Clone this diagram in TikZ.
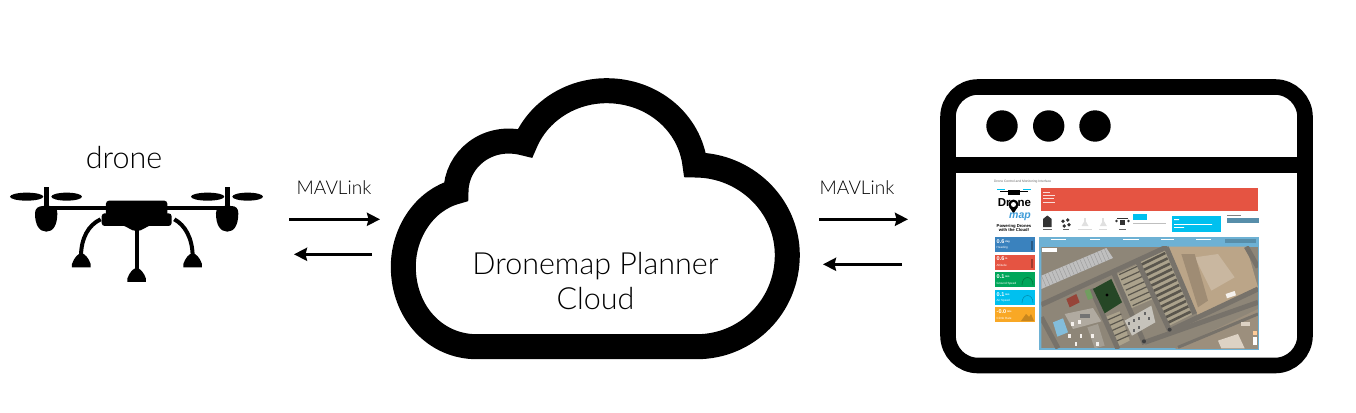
\documentclass[tikz,border=0pt]{standalone}
\usepackage{fontspec}
\setmainfont{Lato Light}
\newfontfamily\boldfont{Liberation Sans}[BoldFont={Liberation Sans Bold}]
\usetikzlibrary{arrows.meta,
    positioning}
\definecolor{banner}{HTML}{E55442}
\definecolor{sky}{HTML}{00C0EF}
\definecolor{panel}{HTML}{6DB1D4}
\definecolor{tan}{HTML}{BBA588}
\definecolor{ground}{HTML}{8E8678}
\definecolor{asphalt}{HTML}{77726A}
\definecolor{rowdark}{HTML}{5A564D}
\definecolor{rowlight}{HTML}{ABA28C}
\definecolor{tileblue}{HTML}{3A82BE}
\definecolor{tilegreen}{HTML}{00A65A}
\definecolor{tileorange}{HTML}{F9A825}
\definecolor{pin}{HTML}{3C9BD8}
\tikzset{
  link/.style={line width=3pt, -{Stealth[length=13pt, width=13pt, inset=1.5pt]}},
  caption/.style={inner sep=0pt, font=\fontsize{19}{21}\selectfont},
  title/.style={inner sep=0pt, align=center, font=\fontsize{30.5}{35}\selectfont},
  tile/.style={minimum width=40.7pt, minimum height=15pt, inner sep=0pt},
  tiny text/.style={inner sep=0pt, text=white, font=\boldfont\bfseries\fontsize{3}{3.5}\selectfont},
  strip/.style={line width=2.6pt, line cap=butt},
  road/.style={line width=5pt, draw=asphalt},
  }

\begin{document}
\begin{tikzpicture}[x=1pt, y=-1pt]
  \useasboundingbox (0,0) rectangle (1356,412);

  % drone, in a scope of its own
  \begin{scope}[shift={(0,130)}, x=0.3333pt, y=-0.3333pt]
    \foreach \r in {0,543} {
      \begin{scope}[shift={(\r,0)}]
        \fill (80,200) ellipse [x radius=50, y radius=12];
        \fill (200,200) ellipse [x radius=46, y radius=12];
        \fill (133,170) rectangle (147,232);
        \fill (105,250) .. controls (105,235) and (115,228) .. (130,228) -- (150,228)
          .. controls (165,228) and (172,235) .. (172,250)
          .. controls (172,285) and (160,305) .. (139,305)
          .. controls (118,305) and (105,285) .. (105,250) -- cycle;
      \end{scope}
    }
    \fill (140,228) rectangle (683,241);
    \fill [rounded corners=3pt] (318,212) rectangle (502,275);
    \fill [rounded corners=3pt] (305,250) rectangle (515,288);
    \fill (360,285) .. controls (385,288) and (390,303) .. (410,303)
      .. controls (430,303) and (435,288) .. (460,285) -- cycle;
    \fill (404,295) rectangle (417,425);
    \draw [line width=4pt] (302,268) .. controls (265,285) and (243,325) .. (243,380);
    \draw [line width=4pt] (523,268) .. controls (555,285) and (578,325) .. (578,380);
    \foreach \x/\y in {244/412,578/412,410/456} {
      \fill (\x-28,\y) -- (\x+28,\y) -- (\x+28,\y-10) .. controls (\x+22,\y-28) and (\x+10,\y-42) .. (\x,\y-42)
        .. controls (\x-10,\y-42) and (\x-22,\y-28) .. (\x-28,\y-10) -- cycle;
    }
  \end{scope}
  \node [title] (drone label) at (124,158) {drone};

  % cloud
  \draw [line width=25pt, miter limit=10] (476.7,346.7) -- (696.7,346.7)
    .. controls (747,346.7) and (787.3,306) .. (787.3,255)
    .. controls (787.3,205) and (745,165) .. (695,165)
    .. controls (690,122) and (652,90.7) .. (606.7,90.7)
    .. controls (570,90.7) and (538,112) .. (525,143.3)
    .. controls (487,133) and (456,160) .. (456,191.7)
    .. controls (425,200) and (403.3,232) .. (403.3,266.7)
    .. controls (403.3,312) and (435,346.7) .. (476.7,346.7) -- cycle;
  \node [title] (cloud label) at (595.5,281) {Dronemap Planner\\Cloud};

  % browser window
  \draw [line width=15.6pt, rounded corners=30pt] (948,87) rectangle (1305,365.5);
  \fill (948,157.3) rectangle (1305,172.7);
  \foreach \x in {1002,1048.7,1095} {
    \fill (\x,126) circle (15.7);
  }

  % the page shown in the window
  \node [inner sep=0pt, text=black!60, anchor=west, font=\boldfont\fontsize{3.3}{4}\selectfont] (page title) at (994,182) {Drone Control and Monitoring Interface};
  \fill [banner] (1040.7,188.3) rectangle (1258.3,210.7);
  \foreach \y/\w in {191.7/7,195/12,198/11,201.5/12} {
    \fill [white!80!banner] (1043,\y) rectangle +(\w,1);
  }
  % logo
  \node [inner sep=0pt, font=\boldfont\bfseries\fontsize{11.5}{11.5}\selectfont] (logo top) at (1014.5,203) {Dr\phantom{o}ne};
  \fill [pin] (1013.5,213.5) -- (1008.9,206.5) -- (1018.1,206.5) -- cycle;
  \fill [pin] (1013.5,204.5) circle (5);
  \fill [white] (1013.5,204.5) circle (2.5);
  \node [inner sep=0pt, text=pin, font=\boldfont\bfseries\itshape\fontsize{10.5}{10.5}\selectfont] (logo bottom) at (1020,216.5) {map};
  \node [inner sep=0pt, align=center, font=\boldfont\bfseries\fontsize{4.2}{4.4}\selectfont] (logo text) at (1014,228) {Powering Drones\\with the Cloud!};
  \fill (1008,190) rectangle (1020,195);
  \draw [line width=1pt] (1000,191) -- (1028,191);
  \draw [line width=1pt, sky] (997,189.5) -- (1005,189.5) (1023,189.5) -- (1031,189.5);
  % icon row
  \fill [black!80] (1043,227) -- (1043,219) -- (1047.3,215.5) -- (1051.7,219) -- (1051.7,227) -- cycle;
  \foreach \a in {30,120,210,300} {
    \fill [black!80] (1066,223) +(\a:3.5) circle (1.9);
  }
  \foreach \x in {1085,1103.3} {
    \fill [black!12] (\x-1,218) rectangle (\x+1,226);
    \fill [black!12] (\x-3.5,226) -- (\x+3.5,226) -- (\x,220) -- cycle;
  }
  \fill [black!80] (1120,219.5) rectangle (1125,225);
  \draw [black!80, line width=1pt] (1117,218.5) -- (1128,218.5);
  \fill [black!80] (1116.5,221) circle (1.3) (1128.5,221) circle (1.3);
  \foreach \x/\w/\c in {1047.3/9/black!60,1066/6/black!60,1085/14/black!15,1103.3/8/black!15,1122.3/7/black!60} {
    \fill [\c] (\x-\w/2,228.7) rectangle (\x+\w/2,229.9);
  }
  % controls
  \fill [sky] (1132.7,214.3) rectangle (1146.7,220);
  \fill [black!25] (1132.7,222.5) rectangle (1166,224);
  \fill [sky] (1171.7,216) rectangle (1220.7,232.3);
  \fill [white] (1174,219) rectangle +(5,1) (1174,224) rectangle +(38,.9) (1174,227) rectangle +(10,.9);
  \fill [black!50] (1226.7,215) rectangle (1241,216);
  \fill [panel!80!black] (1226.7,218.3) rectangle (1259.3,222.7);

  % tiles
  \foreach \y/\col/\val/\unit/\name [count=\i] in {236.7/tileblue/0.6/deg/Heading,
      254.3/banner/0.6/m/Altitude,
      272/tilegreen/0.1/{m/s}/Ground Speed,
      289.7/sky/0.1/{m/s}/Air Speed,
      307/tileorange/-0.0/{m/s}/Climb Rate} {
    \node [tile, fill=\col, anchor=north west] (tile \i) at (994.3,\y) {};
    \node [tiny text, anchor=west, font=\boldfont\bfseries\fontsize{5.5}{6}\selectfont] (value \i) at (996.5,\y+4.7) {\val};
    \node [tiny text, anchor=west, font=\boldfont\bfseries\fontsize{2.6}{3}\selectfont] (unit \i) at (value \i.east) {\,\unit};
    \node [tiny text, anchor=west, font=\boldfont\fontsize{3}{3.5}\selectfont] (name \i) at (996.5,\y+11.3) {\name};
  }
  \fill [tileblue!70!black] (1030.5,241) rectangle (1032.5,250);
  \fill [banner!70!black] (1030.5,259) rectangle (1032.5,268);
  \draw [tilegreen!70!black, line width=.6pt] (1022,285) .. controls (1022,275) and (1033,275) .. (1033,285);
  \draw [sky!75!black, line width=.6pt] (1022,303) .. controls (1022,293) and (1033,293) .. (1033,303);
  \fill [tileorange!80!black] (1021,321) -- (1026,314) -- (1029,317) -- (1031,314) -- (1034,321) -- cycle;

  % map panel, numbers are in thirds of a pixel
  \fill [panel] (1039.3,236.7) rectangle (1259.3,350);
  \begin{scope}[shift={(1038,234)}, x=0.3333pt, y=-0.3333pt]
    \foreach \x/\w in {40/45,155/30,255/48,370/38,475/43} {
      \fill [white] (\x,15.5) rectangle (\x+\w,18.5);
    }
    \fill [panel!80!black] (562,14) rectangle (655,26);
    \clip (10,38) rectangle (660,343);
    \fill [ground] (10,38) rectangle (660,343);
    % sand
    \fill [tan] (388,38) -- (625,38) -- (660,160) -- (480,245) -- cycle;
    \fill [tan!80!white] (470,70) -- (540,60) -- (590,130) -- (520,170) -- cycle;
    \fill [tan!85!black] (430,60) -- (470,60) -- (510,200) -- (480,220) -- cycle;
    \fill [ground!70!tan] (410,345) -- (660,225) -- (660,345) -- cycle;
    % roof
    \fill [black!25] (10,125) -- (205,42) -- (225,72) -- (10,165) -- cycle;
    \foreach \i in {0,...,18} {
      \draw [black!40, line width=.4pt] (10+\i*10.5,125-\i*4.5) -- (25+\i*10.5,159-\i*4.5);
    }
    % plots with rows
    \fill [rowlight] (305,85) -- (385,45) -- (465,240) -- (395,275) -- cycle;
    \foreach \i in {0,...,11} {
      \draw [strip, rowdark] (310+\i*6.9,92+\i*16) -- (382+\i*6.9,57+\i*16);
    }
    \fill [rowlight] (238,120) -- (298,92) -- (345,195) -- (275,225) -- cycle;
    \foreach \i in {0,...,6} {
      \draw [strip, line width=1.2pt, rowdark] (243+\i*6.8,122+\i*15.5) -- (300+\i*6.8,96+\i*15.5);
    }
    \fill [rowlight] (200,250) -- (245,232) -- (275,320) -- (235,340) -- cycle;
    \foreach \i in {0,...,4} {
      \draw [strip, line width=1.2pt, rowdark] (205+\i*6,260+\i*16) -- (250+\i*6,240+\i*16);
    }
    % roads
    \draw [road] (10,212) -- (388,38);
    \draw [road] (225,112) -- (320,330);
    \draw [road] (300,85) -- (395,290);
    \draw [road] (385,40) -- (470,240);
    \draw [road] (395,290) -- (660,165);
    \draw [road] (320,325) -- (660,205);
    \draw [road] (160,165) -- (240,345);
    \draw [road] (10,250) -- (60,343);
    \draw [road] (625,38) -- (660,100);
    \draw [road, line width=3pt] (420,340) -- (660,240);
    % park, pool, buildings
    \fill [green!15!black!85] (165,165) -- (220,135) -- (252,205) -- (200,238) -- cycle;
    \fill [pin] (207,183) circle (5);
    \fill [ground!50!white] (260,260) -- (340,215) -- (352,265) -- (282,305) -- cycle;
    \foreach \x/\y in {270/265,285/255,300/250,318/235,330/250,300/275,285/285} {
      \fill [black!60] (\x,\y) rectangle +(7,9);
    }
    \fill [ground!70!white] (80,240) -- (165,222) -- (190,262) -- (105,285) -- cycle;
    \fill [ground!80!white] (148,280) -- (180,270) -- (200,335) -- (170,343) -- cycle;
    \foreach \x/\y in {100/265,120/258,125/300,110/325,160/300,175/325,90/300} {
      \fill [white!85!tan] (\x,\y) rectangle +(8,12);
    }
    \fill [black!55] (125,240) rectangle +(30,12);
    \fill [tan!60!red!70!black] (85,195) -- (115,180) -- (125,205) -- (95,220) -- cycle;
    \fill [green!20!ground] (140,170) -- (155,165) -- (165,192) -- (150,198) -- cycle;
    \fill [panel!85!white] (45,265) -- (75,253) -- (90,295) -- (58,308) -- cycle;
    \fill [white!85!tan] (563,180) -- (590,171) -- (594,184) -- (567,193) -- cycle;
    \fill [black!75] (395,287) circle (6);
    \fill [black!75] (318,322) circle (6);
    \fill [tan!50!white] (540,320) -- (600,300) -- (620,343) -- (550,343) -- cycle;
    \fill [tan!50!white] (610,265) rectangle +(25,10);
    % map buttons
    \fill [white] (12,42) rectangle (58,55);
    \fill [orange!40!white] (645,292) rectangle (656,303);
    \fill [white] (645,310) rectangle (656,332);
  \end{scope}

  % links
  \coordinate (drone out) at (289,219.3);
  \coordinate (cloud in) at (380,219.3);
  \coordinate (cloud out) at (372,254.3);
  \coordinate (drone in) at (294,254.3);
  \coordinate (cloud right out) at (819,219.3);
  \coordinate (web in) at (908,219.3);
  \coordinate (web out) at (902,264.3);
  \coordinate (cloud right in) at (823,264.3);
  \draw [link] (drone out) -- (cloud in);
  \draw [link] (cloud out) -- (drone in);
  \draw [link] (cloud right out) -- (web in);
  \draw [link] (web out) -- (cloud right in);
  \node [caption] (left label) at (334,188) {MAVLink};
  \node [caption] (right label) at (857,188) {MAVLink};
\end{tikzpicture}
\end{document}
